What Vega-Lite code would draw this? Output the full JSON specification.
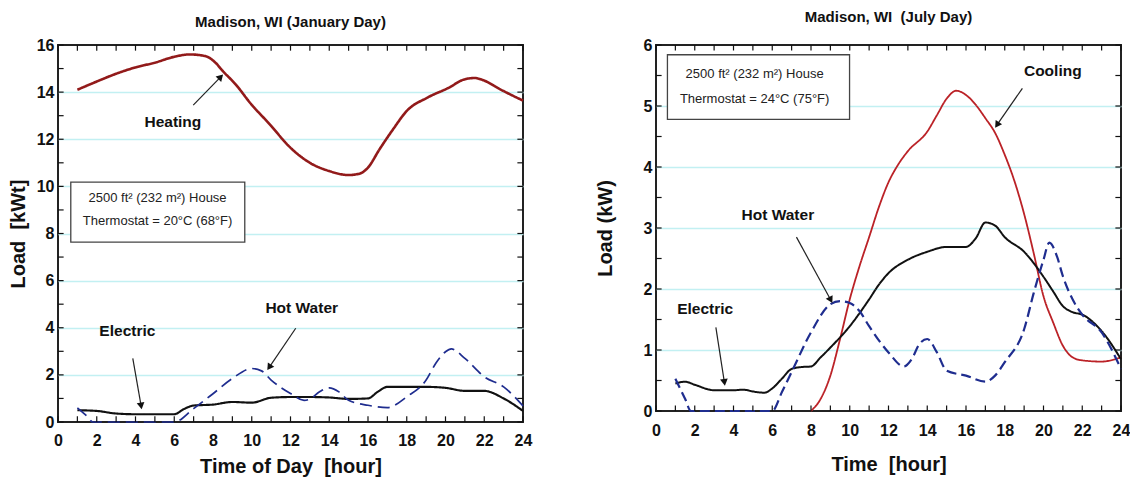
{
  "$schema": "https://vega.github.io/schema/vega-lite/v6.json",
  "padding": {"left": 7, "top": 9, "right": 0, "bottom": 0},
  "background": "white",
  "config": {
    "font": "Liberation Sans",
    "view": {"stroke": "#222", "strokeWidth": 2},
    "axis": {
      "labelFont": "Liberation Sans", "labelFontSize": 16, "labelFontWeight": "bold", "labelColor": "#111",
      "titleFont": "Liberation Sans", "titleFontSize": 20, "titleFontWeight": "bold", "titleColor": "#111",
      "ticks": false, "gridWidth": 1.5, "domain": false,
      "labelOverlap": false, "labelFlush": false, "labelBound": false
    },
    "title": {"font": "Liberation Sans", "fontSize": 15, "fontWeight": "bold", "color": "#111"}
  },
  "datasets": {
    "hours": [{"t":0},{"t":1},{"t":2},{"t":3},{"t":4},{"t":5},{"t":6},{"t":7},{"t":8},{"t":9},{"t":10},{"t":11},{"t":12},{"t":13},{"t":14},{"t":15},{"t":16},{"t":17},{"t":18},{"t":19},{"t":20},{"t":21},{"t":22},{"t":23},{"t":24}],
    "janLoads": [{"t":0},{"t":1},{"t":2},{"t":3},{"t":4},{"t":5},{"t":6},{"t":7},{"t":8},{"t":9},{"t":10},{"t":11},{"t":12},{"t":13},{"t":14},{"t":15},{"t":16}],
    "julLoads": [{"t":0},{"t":0.5},{"t":1},{"t":1.5},{"t":2},{"t":2.5},{"t":3},{"t":3.5},{"t":4},{"t":4.5},{"t":5},{"t":5.5},{"t":6}],
    "jan": [
      {"s":"Heating","h":1,"v":14.1},{"s":"Heating","h":2,"v":14.45},{"s":"Heating","h":3,"v":14.78},{"s":"Heating","h":4,"v":15.05},{"s":"Heating","h":5,"v":15.25},{"s":"Heating","h":6,"v":15.5},{"s":"Heating","h":6.8,"v":15.6},{"s":"Heating","h":7.6,"v":15.53},{"s":"Heating","h":8.1,"v":15.27},{"s":"Heating","h":8.5,"v":14.9},{"s":"Heating","h":9.2,"v":14.3},{"s":"Heating","h":9.9,"v":13.56},{"s":"Heating","h":11,"v":12.57},{"s":"Heating","h":11.9,"v":11.72},{"s":"Heating","h":13,"v":11.0},{"s":"Heating","h":14,"v":10.65},{"s":"Heating","h":15,"v":10.48},{"s":"Heating","h":15.6,"v":10.55},{"s":"Heating","h":16,"v":10.8},{"s":"Heating","h":16.6,"v":11.58},{"s":"Heating","h":17.3,"v":12.43},{"s":"Heating","h":18,"v":13.2},{"s":"Heating","h":19.1,"v":13.78},{"s":"Heating","h":20.2,"v":14.2},{"s":"Heating","h":20.9,"v":14.52},{"s":"Heating","h":21.5,"v":14.6},{"s":"Heating","h":22,"v":14.49},{"s":"Heating","h":22.8,"v":14.13},{"s":"Heating","h":24,"v":13.64},
      {"s":"Electric","h":1,"v":0.5},{"s":"Electric","h":2,"v":0.47},{"s":"Electric","h":3,"v":0.36},{"s":"Electric","h":4,"v":0.33},{"s":"Electric","h":5,"v":0.33},{"s":"Electric","h":6,"v":0.33},{"s":"Electric","h":6.5,"v":0.55},{"s":"Electric","h":7,"v":0.7},{"s":"Electric","h":8,"v":0.74},{"s":"Electric","h":9,"v":0.85},{"s":"Electric","h":10,"v":0.82},{"s":"Electric","h":11,"v":1.03},{"s":"Electric","h":12,"v":1.06},{"s":"Electric","h":13,"v":1.06},{"s":"Electric","h":14,"v":1.04},{"s":"Electric","h":15,"v":0.98},{"s":"Electric","h":16,"v":1.0},{"s":"Electric","h":16.5,"v":1.28},{"s":"Electric","h":17,"v":1.49},{"s":"Electric","h":18,"v":1.49},{"s":"Electric","h":19,"v":1.49},{"s":"Electric","h":20,"v":1.45},{"s":"Electric","h":21,"v":1.32},{"s":"Electric","h":22,"v":1.32},{"s":"Electric","h":23,"v":1.0},{"s":"Electric","h":24,"v":0.47},
      {"s":"Hot Water","h":1,"v":0.6},{"s":"Hot Water","h":1.5,"v":0.24},{"s":"Hot Water","h":1.8,"v":0},{"s":"Hot Water","h":3,"v":0},{"s":"Hot Water","h":4.5,"v":0},{"s":"Hot Water","h":6,"v":0},{"s":"Hot Water","h":7,"v":0.57},{"s":"Hot Water","h":8,"v":1.2},{"s":"Hot Water","h":9,"v":1.85},{"s":"Hot Water","h":10,"v":2.27},{"s":"Hot Water","h":10.5,"v":2.17},{"s":"Hot Water","h":11,"v":1.78},{"s":"Hot Water","h":12,"v":1.21},{"s":"Hot Water","h":12.7,"v":0.92},{"s":"Hot Water","h":13,"v":0.97},{"s":"Hot Water","h":13.5,"v":1.28},{"s":"Hot Water","h":14,"v":1.45},{"s":"Hot Water","h":14.5,"v":1.28},{"s":"Hot Water","h":15,"v":0.92},{"s":"Hot Water","h":16,"v":0.71},{"s":"Hot Water","h":17,"v":0.61},{"s":"Hot Water","h":18,"v":1.07},{"s":"Hot Water","h":19,"v":1.78},{"s":"Hot Water","h":19.5,"v":2.49},{"s":"Hot Water","h":20,"v":2.98},{"s":"Hot Water","h":20.3,"v":3.1},{"s":"Hot Water","h":21,"v":2.7},{"s":"Hot Water","h":22,"v":1.92},{"s":"Hot Water","h":23,"v":1.49},{"s":"Hot Water","h":24,"v":0.68}
    ],
    "jul": [
      {"s":"Cooling","h":8,"v":0},{"s":"Cooling","h":8.5,"v":0.2},{"s":"Cooling","h":9,"v":0.58},{"s":"Cooling","h":9.5,"v":1.18},{"s":"Cooling","h":10,"v":1.83},{"s":"Cooling","h":10.5,"v":2.37},{"s":"Cooling","h":11,"v":2.85},{"s":"Cooling","h":11.5,"v":3.34},{"s":"Cooling","h":12,"v":3.75},{"s":"Cooling","h":12.5,"v":4.04},{"s":"Cooling","h":13,"v":4.26},{"s":"Cooling","h":14,"v":4.58},{"s":"Cooling","h":14.5,"v":4.85},{"s":"Cooling","h":15,"v":5.12},{"s":"Cooling","h":15.5,"v":5.25},{"s":"Cooling","h":16,"v":5.18},{"s":"Cooling","h":16.5,"v":5.02},{"s":"Cooling","h":17,"v":4.8},{"s":"Cooling","h":17.5,"v":4.56},{"s":"Cooling","h":18,"v":4.2},{"s":"Cooling","h":18.5,"v":3.77},{"s":"Cooling","h":19,"v":3.23},{"s":"Cooling","h":19.5,"v":2.58},{"s":"Cooling","h":20,"v":1.88},{"s":"Cooling","h":20.5,"v":1.45},{"s":"Cooling","h":21,"v":1.07},{"s":"Cooling","h":21.5,"v":0.88},{"s":"Cooling","h":22,"v":0.83},{"s":"Cooling","h":23,"v":0.81},{"s":"Cooling","h":24,"v":0.88},
      {"s":"Electric","h":1,"v":0.45},{"s":"Electric","h":1.5,"v":0.48},{"s":"Electric","h":2,"v":0.43},{"s":"Electric","h":3,"v":0.34},{"s":"Electric","h":4,"v":0.34},{"s":"Electric","h":4.5,"v":0.35},{"s":"Electric","h":5,"v":0.32},{"s":"Electric","h":5.6,"v":0.3},{"s":"Electric","h":6,"v":0.37},{"s":"Electric","h":6.5,"v":0.53},{"s":"Electric","h":7,"v":0.69},{"s":"Electric","h":7.5,"v":0.72},{"s":"Electric","h":8,"v":0.73},{"s":"Electric","h":8.5,"v":0.88},{"s":"Electric","h":9,"v":1.04},{"s":"Electric","h":10,"v":1.39},{"s":"Electric","h":11,"v":1.83},{"s":"Electric","h":11.5,"v":2.07},{"s":"Electric","h":12,"v":2.26},{"s":"Electric","h":13,"v":2.48},{"s":"Electric","h":14,"v":2.61},{"s":"Electric","h":15,"v":2.69},{"s":"Electric","h":16,"v":2.69},{"s":"Electric","h":16.5,"v":2.83},{"s":"Electric","h":17,"v":3.09},{"s":"Electric","h":17.5,"v":3.04},{"s":"Electric","h":18,"v":2.85},{"s":"Electric","h":19,"v":2.61},{"s":"Electric","h":20,"v":2.2},{"s":"Electric","h":20.5,"v":1.96},{"s":"Electric","h":21,"v":1.72},{"s":"Electric","h":21.5,"v":1.62},{"s":"Electric","h":22,"v":1.58},{"s":"Electric","h":23,"v":1.31},{"s":"Electric","h":24,"v":0.85},
      {"s":"Hot Water","h":1,"v":0.53},{"s":"Hot Water","h":1.5,"v":0.2},{"s":"Hot Water","h":1.8,"v":0},{"s":"Hot Water","h":3,"v":0},{"s":"Hot Water","h":4.5,"v":0},{"s":"Hot Water","h":6,"v":0},{"s":"Hot Water","h":6.5,"v":0.31},{"s":"Hot Water","h":7,"v":0.64},{"s":"Hot Water","h":8,"v":1.29},{"s":"Hot Water","h":9,"v":1.75},{"s":"Hot Water","h":9.5,"v":1.8},{"s":"Hot Water","h":10,"v":1.77},{"s":"Hot Water","h":10.5,"v":1.64},{"s":"Hot Water","h":11,"v":1.39},{"s":"Hot Water","h":12,"v":0.96},{"s":"Hot Water","h":12.8,"v":0.73},{"s":"Hot Water","h":13.2,"v":0.85},{"s":"Hot Water","h":13.6,"v":1.1},{"s":"Hot Water","h":14,"v":1.18},{"s":"Hot Water","h":14.5,"v":0.96},{"s":"Hot Water","h":15,"v":0.66},{"s":"Hot Water","h":16,"v":0.58},{"s":"Hot Water","h":17,"v":0.48},{"s":"Hot Water","h":17.5,"v":0.58},{"s":"Hot Water","h":18,"v":0.8},{"s":"Hot Water","h":19,"v":1.34},{"s":"Hot Water","h":19.5,"v":1.94},{"s":"Hot Water","h":20,"v":2.48},{"s":"Hot Water","h":20.3,"v":2.76},{"s":"Hot Water","h":20.7,"v":2.53},{"s":"Hot Water","h":21,"v":2.21},{"s":"Hot Water","h":21.5,"v":1.83},{"s":"Hot Water","h":22,"v":1.58},{"s":"Hot Water","h":23,"v":1.29},{"s":"Hot Water","h":24,"v":0.69}
    ],
    "janNotes": [
      {"label":"Heating","lx":5.93,"ly":12.74,"fx":6.98,"fy":13.45,"ax":8.4,"ay":14.65},
      {"label":"Electric","lx":3.58,"ly":3.86,"fx":3.86,"fy":2.7,"ax":4.29,"ay":0.68},
      {"label":"Hot Water","lx":12.58,"ly":4.83,"fx":12.27,"fy":3.98,"ax":10.9,"ay":2.32}
    ],
    "julNotes": [
      {"label":"Cooling","lx":20.48,"ly":5.57,"fx":18.91,"fy":5.29,"ax":17.6,"ay":4.69},
      {"label":"Hot Water","lx":6.29,"ly":3.22,"fx":7.25,"fy":2.85,"ax":9.02,"ay":1.82},
      {"label":"Electric","lx":2.54,"ly":1.68,"fx":3.09,"fy":1.37,"ax":3.53,"ay":0.47}
    ],
    "janBox": [{"x1":0.66,"x2":9.64,"y1":10.18,"y2":7.63}],
    "julBox": [{"x1":0.59,"x2":9.99,"y1":5.84,"y2":4.78}],
    "janBoxText": [
      {"t":"2500 ft² (232 m²) House","x":5.14,"y":9.49},
      {"t":"Thermostat = 20°C (68°F)","x":5.14,"y":8.52}
    ],
    "julBoxText": [
      {"t":"2500 ft² (232 m²) House","x":5.09,"y":5.52},
      {"t":"Thermostat = 24°C (75°F)","x":5.09,"y":5.11}
    ]
  },
  "spacing": 61,
  "resolve": {"scale": {"x": "independent", "y": "independent", "color": "independent", "strokeDash": "independent", "strokeWidth": "independent"}},
  "hconcat": [
    {
      "vconcat": [
        {
          "width": 465,
          "height": 377,
          "title": {"text": "Madison, WI (January Day)", "offset": 7},
          "resolve": {"axis": {"x": "independent", "y": "independent"}},
          "layer": [
            {
              "data": {"name": "jan"},
              "mark": {"type": "line", "interpolate": "monotone"},
              "encoding": {
                "x": {"field": "h", "type": "quantitative", "scale": {"domain": [0, 24], "nice": false},
                  "axis": {"orient": "bottom", "values": [0,2,4,6,8,10,12,14,16,18,20,22,24],
                    "title": "Time of Day\u00a0 [hour]", "titlePadding": 8, "labelPadding": 10, "grid": false}},
                "y": {"field": "v", "type": "quantitative", "scale": {"domain": [0, 16], "nice": false},
                  "axis": {"orient": "left", "values": [0,2,4,6,8,10,12,14,16],
                    "title": "Load\u00a0 [kWt]", "titlePadding": 8, "labelPadding": 4, "grid": true,
                    "gridColor": {"condition": {"test": "datum.value > 0 && datum.value < 16", "value": "#c2f0f2"}, "value": "transparent"}}},
                "color": {"field": "s", "type": "nominal", "legend": null,
                  "scale": {"domain": ["Heating", "Electric", "Hot Water"], "range": ["#921a1a", "#111111", "#1f2d8f"]}},
                "strokeDash": {"field": "s", "type": "nominal", "legend": null,
                  "scale": {"domain": ["Heating", "Electric", "Hot Water"], "range": [[1, 0], [1, 0], [12, 6]]}},
                "strokeWidth": {"field": "s", "type": "nominal", "legend": null,
                  "scale": {"domain": ["Heating", "Electric", "Hot Water"], "range": [2.6, 1.7, 2.6]}}
              }
            },
            {
              "data": {"name": "hours"},
              "mark": {"type": "rule", "color": "#111", "strokeWidth": 1.2},
              "encoding": {
                "x": {"field": "t", "type": "quantitative", "axis": null},
                "y": {"datum": 0, "axis": null},
                "y2": {"datum": 0.24}
              }
            },
            {
              "data": {"name": "hours"},
              "mark": {"type": "rule", "color": "#111", "strokeWidth": 1.2},
              "encoding": {
                "x": {"field": "t", "type": "quantitative", "axis": null},
                "y": {"datum": 16, "axis": null},
                "y2": {"datum": 15.76}
              }
            },
            {
              "data": {"name": "janLoads"},
              "mark": {"type": "rule", "color": "#111", "strokeWidth": 1.2},
              "encoding": {
                "y": {"field": "t", "type": "quantitative", "axis": null},
                "x": {"datum": 0, "axis": null},
                "x2": {"datum": 0.29}
              }
            },
            {
              "data": {"name": "janLoads"},
              "mark": {"type": "rule", "color": "#111", "strokeWidth": 1.2},
              "encoding": {
                "y": {"field": "t", "type": "quantitative", "axis": null},
                "x": {"datum": 24, "axis": null},
                "x2": {"datum": 23.71}
              }
            },
            {
              "data": {"name": "janBox"},
              "mark": {"type": "rect", "fill": "white", "stroke": "#444", "strokeWidth": 1.3},
              "encoding": {
                "x": {"field": "x1", "type": "quantitative", "axis": null},
                "x2": {"field": "x2"},
                "y": {"field": "y1", "type": "quantitative", "axis": null},
                "y2": {"field": "y2"}
              }
            },
            {
              "data": {"name": "janBoxText"},
              "mark": {"type": "text", "fontSize": 13, "color": "#222", "align": "center", "baseline": "middle", "font": "Liberation Sans"},
              "encoding": {
                "x": {"field": "x", "type": "quantitative", "axis": null},
                "y": {"field": "y", "type": "quantitative", "axis": null},
                "text": {"field": "t"}
              }
            },
            {
              "data": {"name": "janNotes"},
              "mark": {"type": "rule", "color": "#222", "strokeWidth": 1.2},
              "encoding": {
                "x": {"field": "fx", "type": "quantitative", "axis": null},
                "y": {"field": "fy", "type": "quantitative", "axis": null},
                "x2": {"field": "ax"},
                "y2": {"field": "ay"}
              }
            },
            {
              "data": {"name": "janNotes"},
              "mark": {"type": "point", "shape": "triangle-up", "filled": true, "color": "#111", "size": 60, "opacity": 1},
              "encoding": {
                "x": {"field": "ax", "type": "quantitative", "axis": null},
                "y": {"field": "ay", "type": "quantitative", "axis": null},
                "angle": {"condition": [{"test": "datum.label == 'Heating'", "value": 44}, {"test": "datum.label == 'Electric'", "value": 170}], "value": 214}
              }
            },
            {
              "data": {"name": "janNotes"},
              "mark": {"type": "text", "fontSize": 15.5, "fontWeight": "bold", "color": "#111", "align": "center", "baseline": "middle", "font": "Liberation Sans"},
              "encoding": {
                "x": {"field": "lx", "type": "quantitative", "axis": null},
                "y": {"field": "ly", "type": "quantitative", "axis": null},
                "text": {"field": "label"}
              }
            }
          ]
        }
      ]
    },
    {
      "vconcat": [
        {
          "width": 465,
          "height": 366,
          "title": {"text": "Madison, WI\u00a0 (July Day)", "offset": 12},
          "resolve": {"axis": {"x": "independent", "y": "independent"}},
          "layer": [
            {
              "data": {"name": "jul"},
              "mark": {"type": "line", "interpolate": "monotone"},
              "encoding": {
                "x": {"field": "h", "type": "quantitative", "scale": {"domain": [0, 24], "nice": false},
                  "axis": {"orient": "bottom", "values": [0,2,4,6,8,10,12,14,16,18,20,22,24],
                    "title": "Time\u00a0 [hour]", "titlePadding": 16, "labelPadding": 11, "grid": false}},
                "y": {"field": "v", "type": "quantitative", "scale": {"domain": [0, 6], "nice": false},
                  "axis": {"orient": "left", "values": [0,1,2,3,4,5,6], "format": "d",
                    "title": "Load (kW)", "titlePadding": 28, "labelPadding": 4, "grid": true,
                    "gridColor": {"condition": {"test": "datum.value > 0 && datum.value < 6", "value": "#c2f0f2"}, "value": "transparent"}}},
                "color": {"field": "s", "type": "nominal", "legend": null,
                  "scale": {"domain": ["Cooling", "Electric", "Hot Water"], "range": ["#bb2227", "#111111", "#1f2d8f"]}},
                "strokeDash": {"field": "s", "type": "nominal", "legend": null,
                  "scale": {"domain": ["Cooling", "Electric", "Hot Water"], "range": [[1, 0], [1, 0], [10, 5]]}},
                "strokeWidth": {"field": "s", "type": "nominal", "legend": null,
                  "scale": {"domain": ["Cooling", "Electric", "Hot Water"], "range": [1.8, 2.2, 2.2]}}
              }
            },
            {
              "data": {"name": "hours"},
              "mark": {"type": "rule", "color": "#111", "strokeWidth": 1.2},
              "encoding": {
                "x": {"field": "t", "type": "quantitative", "axis": null},
                "y": {"datum": 0, "axis": null},
                "y2": {"datum": 0.09}
              }
            },
            {
              "data": {"name": "hours"},
              "mark": {"type": "rule", "color": "#111", "strokeWidth": 1.2},
              "encoding": {
                "x": {"field": "t", "type": "quantitative", "axis": null},
                "y": {"datum": 6, "axis": null},
                "y2": {"datum": 5.91}
              }
            },
            {
              "data": {"name": "julLoads"},
              "mark": {"type": "rule", "color": "#111", "strokeWidth": 1.2},
              "encoding": {
                "y": {"field": "t", "type": "quantitative", "axis": null},
                "x": {"datum": 0, "axis": null},
                "x2": {"datum": 0.29}
              }
            },
            {
              "data": {"name": "julLoads"},
              "mark": {"type": "rule", "color": "#111", "strokeWidth": 1.2},
              "encoding": {
                "y": {"field": "t", "type": "quantitative", "axis": null},
                "x": {"datum": 24, "axis": null},
                "x2": {"datum": 23.71}
              }
            },
            {
              "data": {"name": "julBox"},
              "mark": {"type": "rect", "fill": "white", "stroke": "#444", "strokeWidth": 1.3},
              "encoding": {
                "x": {"field": "x1", "type": "quantitative", "axis": null},
                "x2": {"field": "x2"},
                "y": {"field": "y1", "type": "quantitative", "axis": null},
                "y2": {"field": "y2"}
              }
            },
            {
              "data": {"name": "julBoxText"},
              "mark": {"type": "text", "fontSize": 13, "color": "#222", "align": "center", "baseline": "middle", "font": "Liberation Sans"},
              "encoding": {
                "x": {"field": "x", "type": "quantitative", "axis": null},
                "y": {"field": "y", "type": "quantitative", "axis": null},
                "text": {"field": "t"}
              }
            },
            {
              "data": {"name": "julNotes"},
              "mark": {"type": "rule", "color": "#222", "strokeWidth": 1.2},
              "encoding": {
                "x": {"field": "fx", "type": "quantitative", "axis": null},
                "y": {"field": "fy", "type": "quantitative", "axis": null},
                "x2": {"field": "ax"},
                "y2": {"field": "ay"}
              }
            },
            {
              "data": {"name": "julNotes"},
              "mark": {"type": "point", "shape": "triangle-up", "filled": true, "color": "#111", "size": 60, "opacity": 1},
              "encoding": {
                "x": {"field": "ax", "type": "quantitative", "axis": null},
                "y": {"field": "ay", "type": "quantitative", "axis": null},
                "angle": {"condition": [{"test": "datum.label == 'Cooling'", "value": 214}, {"test": "datum.label == 'Electric'", "value": 171}], "value": 152}
              }
            },
            {
              "data": {"name": "julNotes"},
              "mark": {"type": "text", "fontSize": 15.5, "fontWeight": "bold", "color": "#111", "align": "center", "baseline": "middle", "font": "Liberation Sans"},
              "encoding": {
                "x": {"field": "lx", "type": "quantitative", "axis": null},
                "y": {"field": "ly", "type": "quantitative", "axis": null},
                "text": {"field": "label"}
              }
            }
          ]
        }
      ]
    }
  ]
}
